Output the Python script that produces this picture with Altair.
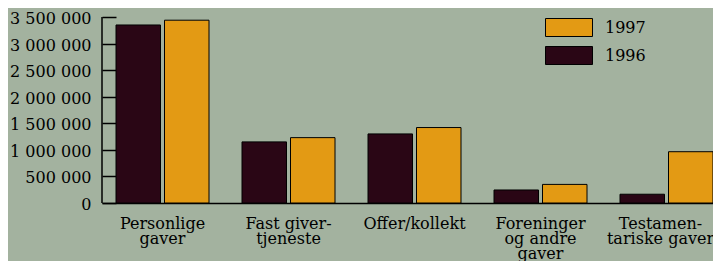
import altair as alt
import pandas as pd

# ---- data ----
categories = ["Personlige|gaver", "Fast giver-|tjeneste", "Offer/kollekt",
              "Foreninger|og andre|gaver", "Testamen-|tariske gaver"]
values_1996 = [3350000, 1150000, 1300000, 245000, 165000]
values_1997 = [3440000, 1230000, 1420000, 350000, 965000]
y_ticks = [0, 500000, 1000000, 1500000, 2000000, 2500000, 3000000, 3500000]

rows = []
for c, v6, v7 in zip(categories, values_1996, values_1997):
    rows.append({"kategori": c, "aar": "1996", "belop": v6})
    rows.append({"kategori": c, "aar": "1997", "belop": v7})
df = pd.DataFrame(rows)

FONT = "DejaVu Serif"
ORANGE = "#E39A14"
DARK = "#2A0615"
BG = "#A3B29F"

W, H = 611, 186

y_scale = alt.Scale(domain=[0, 3500000], nice=False, zero=True)

last_cat = categories[-1]

bars = alt.Chart(df).mark_bar(stroke="black", strokeWidth=1).encode(
    x=alt.X("kategori:N", sort=categories,
            scale=alt.Scale(paddingInner=0.2619, paddingOuter=0.0556, align=1),
            axis=alt.Axis(title=None, labelAngle=0,
                          labelExpr="split(datum.label, '|')",
                          ticks=False, labelPadding=12, labelLineHeight=15,
                          labelFontSize=16, labelFont=FONT, labelColor="black",
                          labelOverlap=False,
                          labelOffset={"condition": {"test": f"datum.value == '{last_cat}'",
                                                     "value": -6},
                                       "value": 0},
                          domainColor="black", domainWidth=1.5)),
    xOffset=alt.XOffset("aar:N", sort=["1996", "1997"],
                        scale=alt.Scale(paddingInner=0.0825, paddingOuter=0)),
    y=alt.Y("belop:Q", scale=y_scale,
            axis=alt.Axis(title=None, values=y_ticks, grid=False, domain=False,
                          offset=-14, tickSize=14, tickWidth=1.5, tickColor="black",
                          labelPadding=11, labelOffset=1.5, format=",d",
                          labelOverlap=False,
                          labelFontSize=16, labelFont=FONT, labelColor="black")),
    color=alt.Color("aar:N",
                    scale=alt.Scale(domain=["1997", "1996"], range=[ORANGE, DARK]),
                    legend=alt.Legend(title=None, orient="none", legendX=443, legendY=1,
                                      symbolType="M-1,-0.383H1V0.383H-1Z",
                                      symbolSize=2209, symbolStrokeColor="black",
                                      symbolStrokeWidth=1, symbolOpacity=1,
                                      clipHeight=19, rowPadding=9, padding=0,
                                      labelOffset=12, labelFont=FONT,
                                      labelFontSize=16, labelColor="black")),
)

# the view outline is dashed so that only its left edge (the y axis line) shows
chart = bars.properties(
    width=W, height=H,
    autosize=alt.AutoSizeParams(type="none"),
    padding={"left": 94, "top": 9, "right": 0, "bottom": 58},
    background=BG,
).configure_view(stroke="black", strokeWidth=1.5,
                 strokeDash=[0, 2 * W + H, H, 0])

chart.save("out.html", embed_options={
    "renderer": "svg", "actions": False,
    "formatLocale": {"decimal": ",", "thousands": "\u00a0", "grouping": [3],
                     "currency": ["", " kr"]},
})
